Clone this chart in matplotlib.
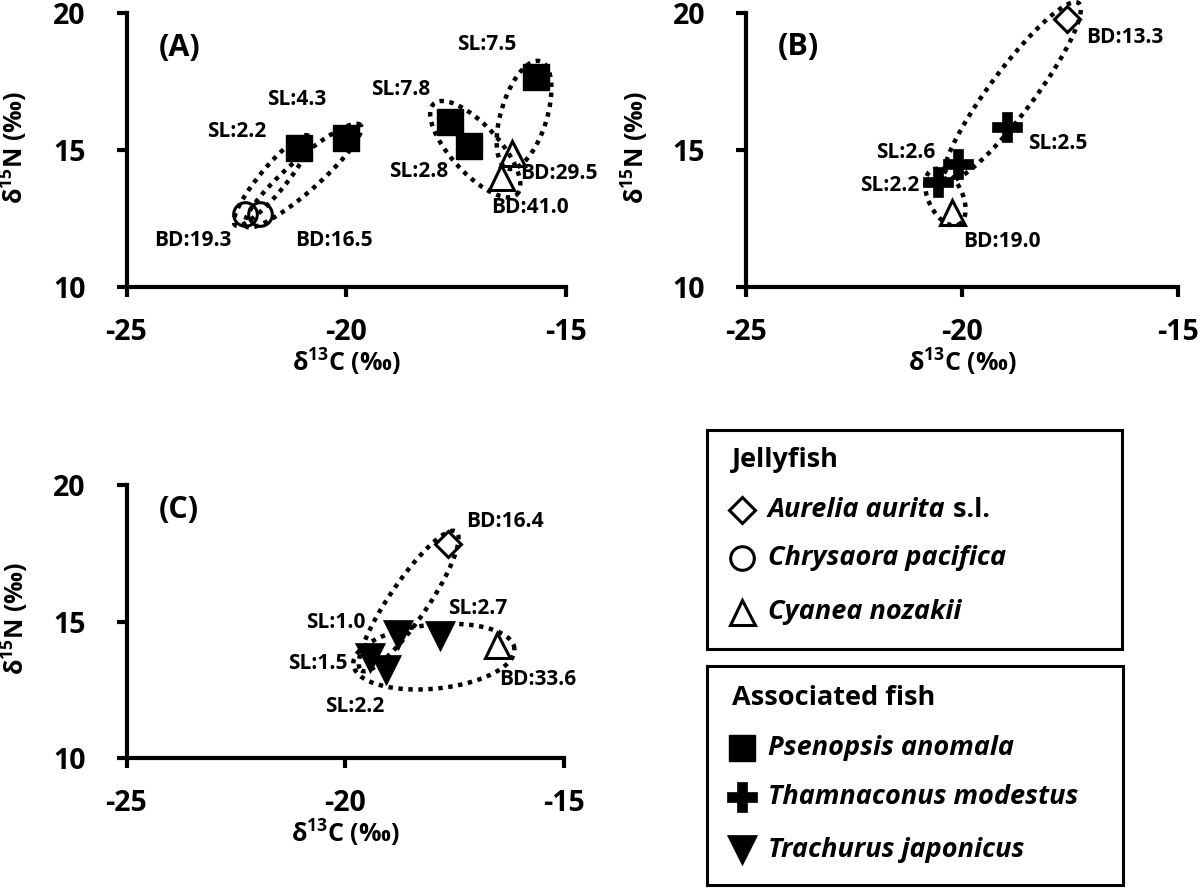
import numpy as np
import matplotlib
matplotlib.use('Agg')
import matplotlib.pyplot as plt
from matplotlib.patches import Rectangle

plt.rcParams['font.family'] = ['Open Sans', 'DejaVu Sans']
plt.rcParams['font.weight'] = 'bold'
plt.rcParams['axes.unicode_minus'] = False
plt.rcParams['mathtext.fontset'] = 'custom'
plt.rcParams['mathtext.rm'] = 'Open Sans:bold'
plt.rcParams['mathtext.bf'] = 'Open Sans:bold'
plt.rcParams['mathtext.it'] = 'Open Sans:bold:italic'

# ---------------- data ----------------
x_ticks = [-25, -20, -15]
y_ticks = [10, 15, 20]
x_label = 'δ$^{\\mathbf{13}}$C (‰)'
y_label = 'δ$^{\\mathbf{15}}$N (‰)'

# Panel A
a_psen_x = [-21.07, -20.00, -17.64, -17.20, -15.69]
a_psen_y = [15.09, 15.45, 16.04, 15.16, 17.68]
a_psen_lab = ['SL:2.2', 'SL:4.3', 'SL:7.8', 'SL:2.8', 'SL:7.5']
a_chry_x = [-22.31, -21.96]
a_chry_y = [12.68, 12.68]
a_chry_lab = ['BD:19.3', 'BD:16.5']
a_cyan_x = [-16.22, -16.49]
a_cyan_y = [14.88, 14.02]
a_cyan_lab = ['BD:29.5', 'BD:41.0']

# Panel B
b_aur_x = [-17.58]
b_aur_y = [19.78]
b_aur_lab = ['BD:13.3']
b_tham_x = [-18.95, -20.09, -20.55]
b_tham_y = [15.84, 14.49, 13.82]
b_tham_lab = ['SL:2.5', 'SL:2.6', 'SL:2.2']
b_cyan_x = [-20.22]
b_cyan_y = [12.74]
b_cyan_lab = ['BD:19.0']

# Panel C
c_aur_x = [-17.66]
c_aur_y = [17.84]
c_aur_lab = ['BD:16.4']
c_trach_x = [-18.80, -17.84, -19.44, -19.06]
c_trach_y = [14.51, 14.46, 13.66, 13.23]
c_trach_lab = ['SL:1.0', 'SL:2.7', 'SL:1.5', 'SL:2.2']
c_cyan_x = [-16.53]
c_cyan_y = [14.13]
c_cyan_lab = ['BD:33.6']

legend_jelly = ['Aurelia aurita', 'Chrysaora pacifica', 'Cyanea nozakii']
legend_fish = ['Psenopsis anomala', 'Thamnaconus modestus', 'Trachurus japonicus']

# ---------------- styles ----------------
STY = {
    'psen': dict(marker='s', ms=19, mfc='black', mec='black', mew=1),
    'chry': dict(marker='o', ms=17, mfc='none', mec='black', mew=2.2),
    'cyan': dict(marker='^', ms=18, mfc='none', mec='black', mew=2.2),
    'aur': dict(marker='D', ms=13, mfc='none', mec='black', mew=2.2),
    'tham': dict(marker='P', ms=21, mfc='black', mec='black', mew=0.5),
    'trach': dict(marker='v', ms=21, mfc='black', mec='black', mew=0.5),
}
TICK_FS = 20.5
AXLAB_FS = 18
ANN_FS = 15
PANEL_FS = 22
LEG_FS = 19.5

fig = plt.figure(figsize=(12, 8.88), dpi=100)
W, H = 1200, 888


def make_ax(left_px, right_px, top_px, bottom_px):
    ax = fig.add_axes([left_px / W, 1 - bottom_px / H,
                       (right_px - left_px) / W, (bottom_px - top_px) / H])
    ax.set_xlim(-25, -15)
    ax.set_ylim(10, 20)
    ax.set_xticks(x_ticks)
    ax.set_yticks(y_ticks)
    for s in ['top', 'right']:
        ax.spines[s].set_visible(False)
    for s in ['left', 'bottom']:
        ax.spines[s].set_linewidth(3)
    ax.tick_params(direction='out', length=7.5, width=3, labelsize=TICK_FS)
    ax.tick_params(axis='x', pad=15)
    ax.tick_params(axis='y', pad=22)
    for lab in ax.get_xticklabels() + ax.get_yticklabels():
        lab.set_fontweight('bold')
    ax.set_xlabel(x_label, fontsize=AXLAB_FS, fontweight='bold', va='center')
    ax.xaxis.set_label_coords(0.5, -0.277)
    ax.set_ylabel(y_label, fontsize=AXLAB_FS, fontweight='bold', va='center', ha='center')
    ax.yaxis.set_label_coords(-0.255, 0.51)
    ax.patch.set_alpha(0)
    return ax


def pts(ax, xs, ys, key, labels, offsets):
    ax.plot(xs, ys, ls='none', zorder=3, clip_on=False, **STY[key])
    for x, y, t, o in zip(xs, ys, labels, offsets):
        ax.annotate(t, (x, y), xytext=o, textcoords='offset pixels',
                    ha='center', va='center', fontsize=ANN_FS, fontweight='bold')


def ellipse(ax, p1, p2, pad, hw, shift=0):
    t1 = ax.transData.transform(p1)
    t2 = ax.transData.transform(p2)
    d = t2 - t1
    L = np.hypot(*d)
    u = d / L
    n = np.array([-u[1], u[0]])
    c = (t1 + t2) / 2 + n * shift
    a = L / 2 + pad
    th = np.linspace(0, 2 * np.pi, 300)
    P = c + np.outer(a * np.cos(th), u) + np.outer(hw * np.sin(th), n)
    D = ax.transData.inverted().transform(P)
    ax.plot(D[:, 0], D[:, 1], color='black', lw=3.2, ls=(0, (1, 1.25)),
            dash_capstyle='butt', zorder=2, clip_on=False)


# ---------------- Panel A ----------------
axA = make_ax(126.5, 566, 13, 287)
axA.text(-23.8, 18.72, '(A)', fontsize=PANEL_FS, fontweight='bold', ha='center', va='center')
ellipse(axA, (a_chry_x[0], a_chry_y[0]), (a_psen_x[0], a_psen_y[0]), 15, 13)
ellipse(axA, (a_chry_x[1], a_chry_y[1]), (a_psen_x[1], a_psen_y[1]), 19, 16)
ellipse(axA, (a_psen_x[2], a_psen_y[2]), (a_cyan_x[1], a_cyan_y[1]), 24, 24)
ellipse(axA, (a_psen_x[4], a_psen_y[4]), (a_cyan_x[0], a_cyan_y[0]), 16, 23)
pts(axA, a_psen_x, a_psen_y, 'psen', a_psen_lab,
    [(-63, 16), (-50, 38), (-49, 32), (-51, -26), (-49, 32)])
pts(axA, a_chry_x, a_chry_y, 'chry', a_chry_lab, [(-52, -27), (74, -27)])
pts(axA, a_cyan_x, a_cyan_y, 'cyan', a_cyan_lab, [(46, -20), (29, -31)])

# ---------------- Panel B ----------------
axB = make_ax(746, 1178, 13, 287)
axB.text(-23.79, 18.75, '(B)', fontsize=PANEL_FS, fontweight='bold', ha='center', va='center')
ellipse(axB, (b_aur_x[0], b_aur_y[0]), (b_tham_x[1], b_tham_y[1]), 20, 22)
ellipse(axB, (b_tham_x[2], b_tham_y[2]), (b_cyan_x[0], b_cyan_y[0]), 14, 17)
pts(axB, b_aur_x, b_aur_y, 'aur', b_aur_lab, [(58, -18)])
pts(axB, b_tham_x, b_tham_y, 'tham', b_tham_lab, [(50, -17), (-52, 11), (-49, -3)])
pts(axB, b_cyan_x, b_cyan_y, 'cyan', b_cyan_lab, [(49, -30)])

# ---------------- Panel C ----------------
axC = make_ax(126.5, 564, 485, 758)
axC.text(-23.8, 19.08, '(C)', fontsize=PANEL_FS, fontweight='bold', ha='center', va='center')
ellipse(axC, (c_aur_x[0], c_aur_y[0]), (c_trach_x[2], c_trach_y[2]), 15, 19)
ellipse(axC, (c_trach_x[2], c_trach_y[2]), (c_cyan_x[0], c_cyan_y[0]), 17, 32, -5)
pts(axC, c_aur_x, c_aur_y, 'aur', c_aur_lab, [(57, 22)])
pts(axC, c_trach_x, c_trach_y, 'trach', c_trach_lab,
    [(-62, 12), (38, 28), (-52, -5), (-32, -37)])
pts(axC, c_cyan_x, c_cyan_y, 'cyan', c_cyan_lab, [(41, -34)])

# ---------------- Legend ----------------
axL = fig.add_axes([0, 0, 1, 1])
axL.set_xlim(0, W)
axL.set_ylim(H, 0)
axL.axis('off')
axL.patch.set_alpha(0)
axL.add_patch(Rectangle((707, 430), 415, 219, fill=False, lw=2.2, ec='black'))
axL.add_patch(Rectangle((707, 666), 416, 219, fill=False, lw=2.2, ec='black'))
axL.text(732, 460, 'Jellyfish', fontsize=LEG_FS, fontweight='bold', va='center')
axL.text(732, 698, 'Associated fish', fontsize=LEG_FS, fontweight='bold', va='center')

renderer = fig.canvas.get_renderer()
jelly_rows = [510, 558, 612]
fish_rows = [748, 797, 850]
for name, key, yy in zip(legend_jelly, ['aur', 'chry', 'cyan'], jelly_rows):
    axL.plot([742], [yy], ls='none', **STY[key])
    t = axL.text(768, yy, name, fontsize=LEG_FS, fontweight='bold', style='italic', va='center')
    if key == 'aur':
        bb = t.get_window_extent(renderer)
        x_end = axL.transData.inverted().transform((bb.x1, bb.y0))[0]
        axL.text(x_end, yy, ' s.l.', fontsize=LEG_FS, fontweight='bold', va='center')
for name, key, yy in zip(legend_fish, ['psen', 'tham', 'trach'], fish_rows):
    axL.plot([742], [yy], ls='none', **STY[key])
    axL.text(768, yy, name, fontsize=LEG_FS, fontweight='bold', style='italic', va='center')

fig.savefig('out.png', dpi=100)
